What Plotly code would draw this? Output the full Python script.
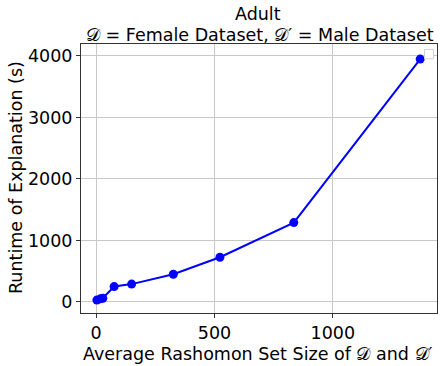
import plotly.graph_objects as go

rashomon_size = [3, 18, 28, 76, 150, 326, 523, 835, 1369]
runtime_s = [30, 50, 60, 250, 290, 450, 727, 1290, 3950]
x_ticks = [0, 500, 1000]
y_ticks = [0, 1000, 2000, 3000, 4000]

FONT = "DejaVu Sans"
FS = 17.5
W, H = 448, 366
L, R, T, B = 81, 11, 44, 53

fig = go.Figure()
fig.add_trace(go.Scatter(
    x=rashomon_size, y=runtime_s, mode="lines+markers",
    line=dict(color="#0000ff", width=2),
    marker=dict(color="#0000ff", size=9),
    showlegend=False,
))

axis_common = dict(
    showline=True, linecolor="#333333", linewidth=1, mirror=True,
    showgrid=True, gridcolor="#c8c8c8", gridwidth=1,
    ticks="outside", ticklen=4, tickcolor="#333333",
    zeroline=False, automargin=False,
    tickfont=dict(family=FONT, size=FS, color="black"),
)

def px_x(px):
    return (px - L) / (W - L - R)

def px_y(py):
    return (H - B - py) / (H - T - B)

annotations = [
    dict(text="Adult", x=px_x(258), y=px_y(14)),
    dict(text="𝒟 = Female Dataset, 𝒟′ = Male Dataset", x=px_x(260), y=px_y(35)),
    dict(text="Average Rashomon Set Size of 𝒟 and 𝒟′", x=px_x(258), y=px_y(354)),
    dict(text="Runtime of Explanation (s)", x=px_x(16), y=px_y(178), textangle=-90),
]
for a in annotations:
    a.update(xref="paper", yref="paper", showarrow=False,
             xanchor="center", yanchor="middle",
             font=dict(family=FONT, size=FS, color="black"))

fig.update_layout(
    width=W, height=H,
    margin=dict(l=L, r=R, t=T, b=B, autoexpand=False),
    paper_bgcolor="white", plot_bgcolor="white",
    font=dict(family=FONT, color="black"),
    xaxis=dict(range=[-64, 1440], tickvals=x_ticks, **axis_common),
    yaxis=dict(range=[-180, 4195], tickvals=y_ticks, **axis_common),
    annotations=annotations,
    shapes=[dict(
        type="rect", xref="paper", yref="paper",
        x0=0.965, x1=0.99, y0=0.945, y1=0.98,
        line=dict(color="#d0d0d0", width=1), fillcolor="white",
    )],
)

fig.write_html(
    "out.html",
    config={"displayModeBar": False},
    post_script="document.body.style.margin='0';document.body.style.overflow='hidden';",
)
